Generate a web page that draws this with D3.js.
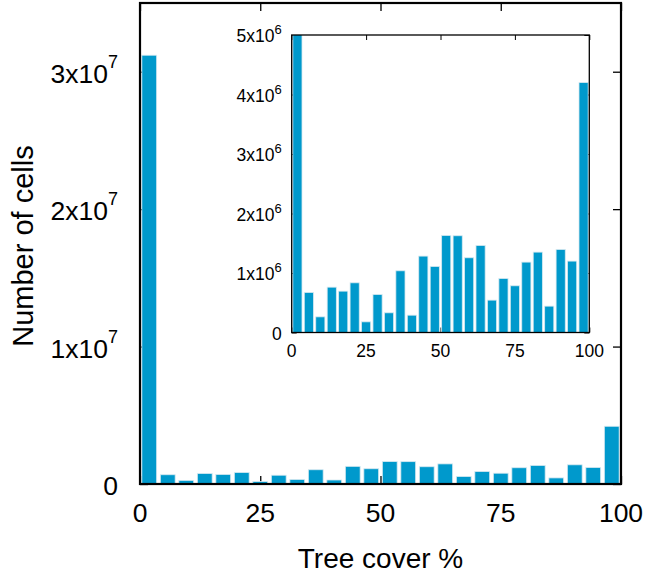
<!DOCTYPE html>
<html>
<head>
<meta charset="utf-8">
<script src="https://cdn.jsdelivr.net/npm/d3@7"></script>
<style>
  html, body { margin: 0; padding: 0; background: #fff; }
  svg { display: block; font-family: "Liberation Sans", Arial, Helvetica, sans-serif; }
</style>
</head>
<body>
<svg id="chart" width="652" height="579"></svg>
<script>
// Histogram of tree cover: number of grid cells in each of 26 tree-cover bins (0–100 %)
const binIndex = d3.range(26);
const cellCounts = [
  3.12e7, 0.673e6, 0.263e6, 0.762e6, 0.695e6, 0.835e6, 0.179e6, 0.639e6,
  0.331e6, 1.037e6, 0.291e6, 1.284e6, 1.110e6, 1.631e6, 1.626e6, 1.256e6,
  1.463e6, 0.544e6, 0.908e6, 0.785e6, 1.183e6, 1.351e6, 0.443e6, 1.396e6,
  1.200e6, 4.20e6
];

// Tick values and their labels
const xTicks = [0, 25, 50, 75, 100];
const xTickLabels = ["0", "25", "50", "75", "100"];
const mainYTicks = [0, 1e7, 2e7, 3e7];
const mainYLabels = [["0", ""], ["1x10", "7"], ["2x10", "7"], ["3x10", "7"]];
const insetYTicks = [0, 1e6, 2e6, 3e6, 4e6, 5e6];
const insetYLabels = [["0", ""], ["1x10", "6"], ["2x10", "6"], ["3x10", "6"], ["4x10", "6"], ["5x10", "6"]];

const barFill = "#0099cc";
const barEdge = "#d6e9f0";

const svg = d3.select("#chart");

function panel(g, box, yMax, yTicks, yLabels, opt) {
  const x = d3.scaleLinear().domain([0, 100]).range([box.left, box.right]);
  const y = d3.scaleLinear().domain([0, yMax]).range([box.bottom, box.top]);
  const band = d3.scaleBand().domain(binIndex).range([box.left, box.right])
    .paddingInner(0.2).paddingOuter(0.1);

  const clipId = "clip-" + opt.name;
  g.append("clipPath").attr("id", clipId)
    .append("rect")
    .attr("x", box.left).attr("y", box.top)
    .attr("width", box.right - box.left).attr("height", box.bottom - box.top);

  // white background of the panel
  g.append("rect")
    .attr("x", box.left).attr("y", box.top)
    .attr("width", box.right - box.left).attr("height", box.bottom - box.top)
    .attr("fill", "#fff");

  // inward ticks on all four sides (drawn under the bars)
  const tickLen = opt.tickLen;
  const axes = [
    d3.axisBottom(x).tickValues(xTicks).tickSize(-tickLen).tickFormat(""),
    d3.axisTop(x).tickValues(xTicks).tickSize(-tickLen).tickFormat(""),
    d3.axisLeft(y).tickValues(yTicks).tickSize(-tickLen).tickFormat(""),
    d3.axisRight(y).tickValues(yTicks).tickSize(-tickLen).tickFormat("")
  ];
  const offs = [
    `translate(0,${box.bottom})`, `translate(0,${box.top})`,
    `translate(${box.left},0)`, `translate(${box.right},0)`
  ];
  axes.forEach((a, i) => {
    const ag = g.append("g").attr("transform", offs[i]).call(a);
    ag.select(".domain").remove();
    ag.selectAll(".tick line").attr("stroke", "#000").attr("stroke-width", opt.tickWidth);
  });

  // bars
  g.append("g").attr("clip-path", `url(#${clipId})`)
    .selectAll("rect")
    .data(cellCounts)
    .join("rect")
    .attr("x", (d, i) => band(i))
    .attr("width", band.bandwidth())
    .attr("y", d => y(d))
    .attr("height", d => box.bottom - y(d))
    .attr("fill", barFill)
    .attr("stroke", barEdge)
    .attr("stroke-width", 0.8);

  // frame
  g.append("rect")
    .attr("x", box.left).attr("y", box.top)
    .attr("width", box.right - box.left).attr("height", box.bottom - box.top)
    .attr("fill", "none").attr("stroke", "#000").attr("stroke-width", opt.frameWidth);

  // x tick labels
  g.append("g").selectAll("text")
    .data(xTicks)
    .join("text")
    .attr("x", d => x(d))
    .attr("y", box.bottom + opt.xLabelOffset)
    .attr("text-anchor", "middle")
    .attr("font-size", opt.fontSize)
    .attr("fill", "#000")
    .text((d, i) => xTickLabels[i]);

  // y tick labels with superscript exponents
  const yl = g.append("g").selectAll("text")
    .data(yTicks)
    .join("text")
    .attr("x", box.left - opt.yLabelGap)
    .attr("y", d => y(d) + opt.yLabelShift)
    .attr("text-anchor", "end")
    .attr("font-size", opt.fontSize)
    .attr("fill", "#000");
  yl.append("tspan").text((d, i) => yLabels[i][0]);
  yl.append("tspan")
    .attr("font-size", opt.supSize)
    .attr("dy", (d, i) => yLabels[i][1] ? -opt.supRaise : 0)
    .text((d, i) => yLabels[i][1]);

  return { x, y };
}

// main histogram
const mainBox = { left: 140, right: 621, top: 3, bottom: 484 };
panel(svg.append("g"), mainBox, 3.5e7, mainYTicks, mainYLabels, {
  name: "main", tickLen: 8, tickWidth: 1.3, frameWidth: 2.2,
  fontSize: 26.5, supSize: 18, supRaise: 15,
  xLabelOffset: 38, yLabelGap: 22, yLabelShift: 11
});

// zoomed inset of the lower counts
const insetBox = { left: 291.7, right: 589.3, top: 35, bottom: 332.5 };
panel(svg.append("g"), insetBox, 5e6, insetYTicks, insetYLabels, {
  name: "inset", tickLen: 5, tickWidth: 1, frameWidth: 1.3,
  fontSize: 17.5, supSize: 13, supRaise: 8,
  xLabelOffset: 24, yLabelGap: 10, yLabelShift: 7
});

// axis titles
svg.append("text")
  .attr("x", (mainBox.left + mainBox.right) / 2)
  .attr("y", 568)
  .attr("text-anchor", "middle")
  .attr("font-size", 28)
  .attr("fill", "#000")
  .text("Tree cover %");

svg.append("text")
  .attr("transform", "translate(33,246) rotate(-90)")
  .attr("text-anchor", "middle")
  .attr("font-size", 29)
  .attr("fill", "#000")
  .text("Number of cells");
</script>
</body>
</html>
